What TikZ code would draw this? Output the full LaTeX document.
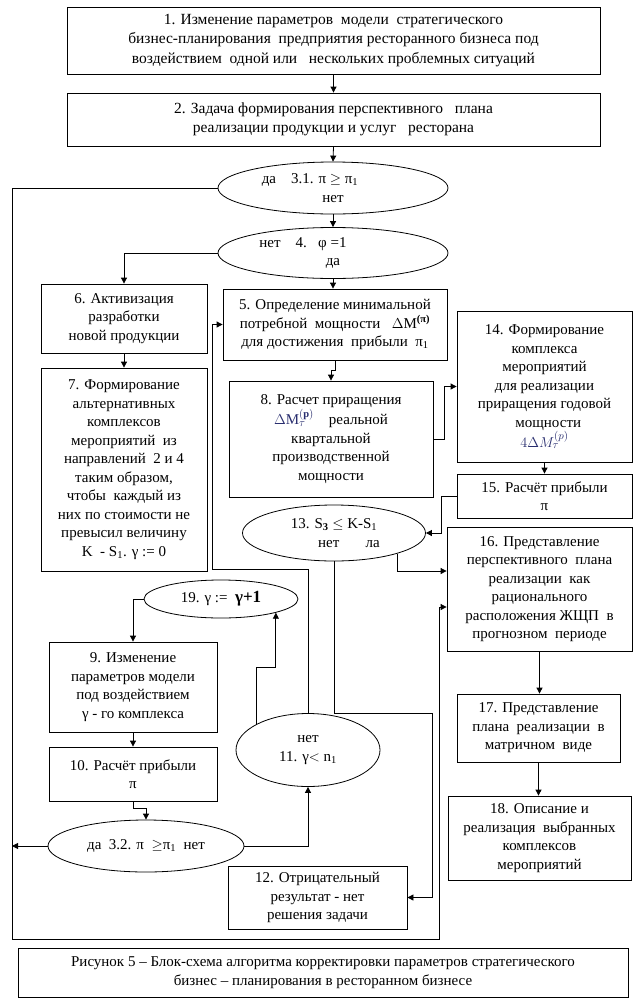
\documentclass[tikz,border=0pt]{standalone}
\usepackage{fontspec}
\setmainfont{Liberation Serif}
\usetikzlibrary{arrows.meta,shapes.geometric,calc}
\newcommand\fs{\fontsize{15}{18.5}\selectfont}
\newcommand\fsb{\fontsize{15.5}{19.5}\selectfont}
\definecolor{formula}{RGB}{40,45,110}
\begin{document}
\begin{tikzpicture}[x=1pt,y=-1pt,line width=0.8pt,
  box/.style={draw, rectangle, align=center, inner sep=0pt, font=\fs},
  oval/.style={draw, ellipse, align=center, inner sep=0pt, font=\fs},
  arr/.style={-{Triangle[length=6pt,width=6pt]}}]
\useasboundingbox (0,0) rectangle (641,1007);

\node[box,font=\fsb,minimum width=533pt,minimum height=67pt] (b1) at (333.5,40.5)
  {1. Изменение параметров\ \ модели\ \ стратегического\\
   бизнес-планирования\ \ предприятия ресторанного бизнеса под\\
   воздействием\ \ одной или\ \ \ нескольких проблемных ситуаций};
\node[box,font=\fsb,minimum width=533pt,minimum height=53pt] (b2) at (333.5,119.5)
  {2. Задача формирования перспективного\ \ \ плана\\
   реализации продукции и услуг\ \ \ ресторана};
\node[oval,minimum width=230pt,minimum height=52pt] (e31) at (333,188)
  {да\ \ \ \ 3.1. π $\geq$ π\textsubscript{1}\hspace*{46pt}\\ нет};
\node[oval,minimum width=230pt,minimum height=51pt] (e4) at (333,253)
  {нет\ \ \ \ 4.\ \ \ φ =1\hspace*{60pt}\\ да};
\node[box,minimum width=166pt,minimum height=69pt] (b6) at (124,318.5)
  {6. Активизация\\ разработки\\ новой продукции};
\node[box,minimum width=224pt,minimum height=71pt] (b5) at (335,324.5)
  {5. Определение минимальной\\
   потребной\ \ мощности\ \ \ $\Delta$M\textsuperscript{\textbf{(π)}}\\
   для достижения\ \ прибыли\ \ π\textsubscript{1}};
\node[box,minimum width=166pt,minimum height=203pt] (b7) at (124,469.5)
  {7. Формирование\\ альтернативных\\ комплексов\\ мероприятий\ \ из\\
   направлений\ \ 2 и 4\\ таким образом,\\ чтобы\ \ каждый из\\
   них по стоимости не\\ превысил величину\\ K\ \ - S\textsubscript{1}. γ := 0};
\node[box,minimum width=204pt,minimum height=116pt] (b8) at (331,439)
  {8. Расчет приращения\\
   {\color{formula}$\Delta\mathrm{M}_{\tau}^{(\mathbf{p})}$}\ \ \ \ реальной\\
   квартальной\\ производственной\\ мощности};
\node[box,minimum width=175pt,minimum height=151pt] (b14) at (544.5,386.5)
  {14. Формирование\\ комплекса\\ мероприятий\\ для реализации\\
   приращения годовой\\ \ \ мощности\\ {\color{formula}$4\Delta M_{\tau}^{(p)}$}};
\node[box,minimum width=175pt,minimum height=44pt] (b15) at (544.5,496)
  {15. Расчёт прибыли\\ π};
\node[oval,minimum width=183pt,minimum height=56pt] (e13) at (334,533)
  {13. S\textsubscript{\textbf{3}} $\leq$ K-S\textsubscript{1}\\
   \hspace*{30pt}нет\ \ \ \ \ \ \ ла};
\node[box,minimum width=185pt,minimum height=124pt] (b16) at (539.5,589)
  {16. Представление\\ перспективного\ \ плана\\ реализации\ \ как\\
   рационального\\ расположения ЖЩП\ \ в\\ прогнозном\ \ периоде};
\node[box,minimum width=163pt,minimum height=68pt] (b17) at (538.5,728)
  {17. Представление\\ плана\ \ реализации\ \ в\\ матричном\ \ виде};
\node[box,minimum width=183pt,minimum height=84pt] (b18) at (539.5,838)
  {18. Описание и\\ реализация\ \ выбранных\\ комплексов\\ мероприятий};
\node[oval,minimum width=154pt,minimum height=38pt] (e19) at (221,599)
  {19. γ :=\ \ {\fontsize{17}{18}\selectfont\textbf{γ+1}}};
\node[box,minimum width=168pt,minimum height=90pt] (b9) at (133,687)
  {9. Изменение\\ параметров модели\\ под воздействием\\ γ - го комплекса};
\node[box,minimum width=168pt,minimum height=54pt] (b10) at (133,774)
  {10. Расчёт прибыли\\ π};
\node[oval,minimum width=144pt,minimum height=73pt] (e11) at (308,750)
  {нет\\ 11. γ$<$ n\textsubscript{1}};
\node[oval,minimum width=196pt,minimum height=52pt] (e32) at (146,846)
  {да\ \ 3.2. π\ \ $\geq$π\textsubscript{1}\ \ нет};
\node[box,minimum width=179pt,minimum height=63pt] (b12) at (317.5,897.5)
  {12. Отрицательный\\ результат - нет\\ решения задачи};
\node[box,minimum width=610pt,minimum height=49pt] (cap) at (323,972.5)
  {Рисунок 5 – Блок-схема алгоритма корректировки параметров стратегического\\
   бизнес – планирования в ресторанном бизнесе};

\coordinate (cL) at (12,939);
\coordinate (cR) at (439,939);

% main flow
\draw[arr] (b1.south) -- (b2.north);
\draw[arr] (b2.south) -- (e31.north);
\draw[arr] (e31.south) -- (e4.north);
\draw[arr] (e4.south) -- (e4.south |- b5.north);
\draw[arr] (e4.west) -| (b6.north);
\draw[arr] (b6.south) -- (b7.north);
\draw[arr] (b5.south) -- ++(0,10) -| (b8.north);
\draw[arr] (b8.east) -- ++(11,0) |- (b14.west);
\draw[arr] (b14.south) -- (b15.north);
\draw[arr] (b15.west) -- ++(-15,0) |- (e13.east);
\draw[arr] (e13.-18) |- ($(b16.west)+(0,-18)$);
\draw[arr] (e13.south) -- ++(0,152) -| ($(b12.east)+(25,0)$) -- (b12.east);
\draw[arr] (b16.south) -- (b16.south |- b17.north);
\draw[arr] (b17.south) -- (b17.south |- b18.north);
% outer loop
\draw[arr] (e31.west) -| (cL) -- (cR) |- ($(b16.west)+(0,18)$);
\draw[arr] (e32.west) -- (e32.west -| cL);
% inner loop
\draw[arr] (e19.west) -| (b9.north);
\draw[arr] (b9.south) -- (b10.north);
\draw[arr] (b10.south) -- ++(0,7) -| (e32.north);
\draw[arr] (e32.east) -| (e11.south);
\draw[arr] (e11.153) -- ++(0,-57) -| (e19.-14);
\draw[arr] (e11.north) -- ++(0,-144) -| ($(b5.west)+(-10,0)$) -- (b5.west);
\end{tikzpicture}
\end{document}
